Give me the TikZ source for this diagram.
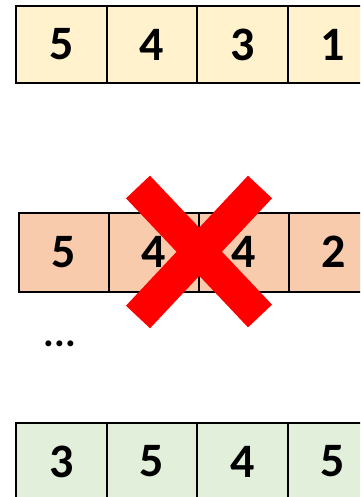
\documentclass[tikz,border=0pt]{standalone}
\usepackage{fontspec}
\setmainfont{Carlito}
\definecolor{cyellow}{HTML}{FFF2CC}
\definecolor{corange}{HTML}{F8CBAD}
\definecolor{cgreen}{HTML}{E2EFDA}
\definecolor{cred}{HTML}{FF0000}
\begin{document}
\begin{tikzpicture}[x=1pt,y=-1pt,
  cell/.style={draw=black,line width=2pt,minimum width=90.5pt,minimum height=77pt,inner sep=0pt,outer sep=0pt,
    font=\fontsize{48}{50}\selectfont\bfseries},
  ycell/.style={cell,fill=cyellow},
  ocell/.style={cell,fill=corange,minimum height=79pt},
  gcell/.style={cell,fill=cgreen},
  cross/.style={draw=cred,line width=33pt,line cap=butt}]
\useasboundingbox (0,0) rectangle (360,497);
\clip (0,0) rectangle (360,497);
% top row
\node[ycell] (a1) at (61.5,44.5) {5};
\node[ycell] (a2) at (152,44.5) {4};
\node[ycell] (a3) at (242.5,44.5) {3};
\node[ycell] (a4) at (333,44.5) {1};
% middle row
\node[ocell] (b1) at (64,252) {5};
\node[ocell] (b2) at (154,252) {4};
\node[ocell] (b3) at (244,252) {4};
\node[ocell] (b4) at (334,252) {2};
% cross
\coordinate (xtl) at (138,187);
\coordinate (xbr) at (260,316);
\coordinate (xtr) at (260,187);
\coordinate (xbl) at (138,317);
\draw[cross] (xtl) -- (xbr);
\draw[cross] (xtr) -- (xbl);
% dots
\node[font=\fontsize{40}{40}\selectfont\bfseries,inner sep=0pt] (dots) at (60,344) {...};
% bottom row
\node[gcell] (c1) at (61.5,461.5) {3};
\node[gcell] (c2) at (152,461.5) {5};
\node[gcell] (c3) at (242.5,461.5) {4};
\node[gcell] (c4) at (333,461.5) {5};
\end{tikzpicture}
\end{document}
